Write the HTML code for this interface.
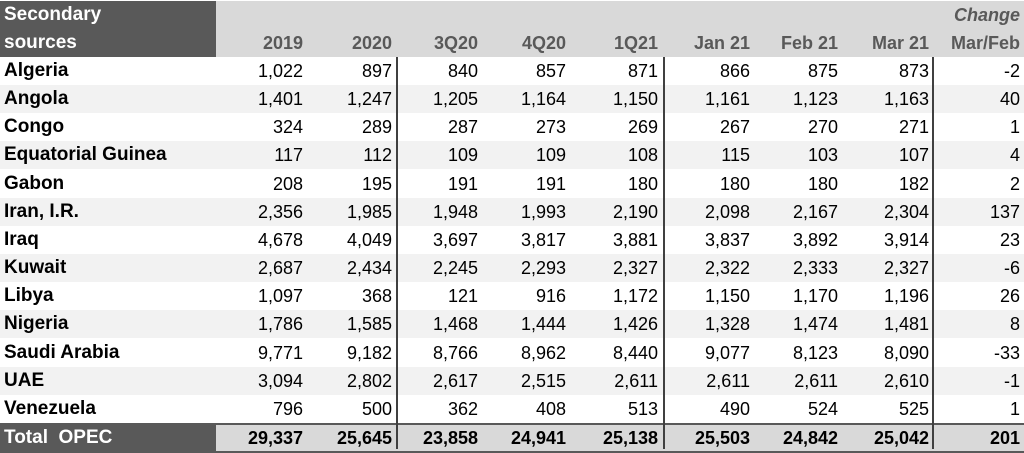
<!DOCTYPE html>
<html><head><style>
body{margin:0;width:1024px;height:451px;background:#fff;font-family:"Liberation Sans",Arial,sans-serif;font-size:18px;position:relative;overflow:hidden}
.hd{position:absolute;top:1px;height:56px;background:#d9d9d9;left:216px;right:0}
.hl{position:absolute;top:1px;height:56px;background:#595959;left:0;width:216px}
.t{position:absolute;white-space:nowrap;line-height:28px}
.w{color:#fff;font-weight:bold;left:4px;font-size:19px}
.h{color:#595959;font-weight:bold;text-align:right}
.row{position:absolute;left:0;right:0;height:28px}
.n{position:absolute;left:4px;font-weight:bold;line-height:28px;white-space:nowrap;font-size:19px}
.c{position:absolute;text-align:right;line-height:28px;width:90px}
.v{position:absolute;width:2px;background:#404040;top:57px;height:392px}
</style></head><body>
<div class="hl"></div><div class="hd"></div>
<div class="t w" style="top:1px">Secondary</div>
<div class="t w" style="top:29px">sources</div>
<div class="t h" style="top:1px;right:4px;font-style:italic">Change</div>
<div id="hdr"></div>
<div id="rows"></div>
<script>
var R=[303,392,478,566,658,750,838,929,1020];
var H=["2019","2020","3Q20","4Q20","1Q21","Jan 21","Feb 21","Mar 21","Mar/Feb"];
var s="";
H.forEach(function(h,i){s+='<div class="t h" style="top:29px;left:'+(R[i]-120)+'px;width:120px">'+h+'</div>';});
document.getElementById("hdr").innerHTML=s;
var D=[["Algeria","1,022","897","840","857","871","866","875","873","-2"],
["Angola","1,401","1,247","1,205","1,164","1,150","1,161","1,123","1,163","40"],
["Congo","324","289","287","273","269","267","270","271","1"],
["Equatorial Guinea","117","112","109","109","108","115","103","107","4"],
["Gabon","208","195","191","191","180","180","180","182","2"],
["Iran, I.R.","2,356","1,985","1,948","1,993","2,190","2,098","2,167","2,304","137"],
["Iraq","4,678","4,049","3,697","3,817","3,881","3,837","3,892","3,914","23"],
["Kuwait","2,687","2,434","2,245","2,293","2,327","2,322","2,333","2,327","-6"],
["Libya","1,097","368","121","916","1,172","1,150","1,170","1,196","26"],
["Nigeria","1,786","1,585","1,468","1,444","1,426","1,328","1,474","1,481","8"],
["Saudi Arabia","9,771","9,182","8,766","8,962","8,440","9,077","8,123","8,090","-33"],
["UAE","3,094","2,802","2,617","2,515","2,611","2,611","2,611","2,610","-1"],
["Venezuela","796","500","362","408","513","490","524","525","1"]];
s="";
D.forEach(function(r,k){
 var top=57+k*28.15;
 s+='<div class="row" style="top:'+top+'px;background:'+(k%2?'#f2f2f2':'#fff')+'"><div class="n">'+r[0]+'</div>';
 for(var i=1;i<10;i++)s+='<div class="c" style="left:'+(R[i-1]-90)+'px">'+r[i]+'</div>';
 s+='</div>';
});
var T=["Total  OPEC","29,337","25,645","23,858","24,941","25,138","25,503","24,842","25,042","201"];
s+='<div class="row" style="top:423px;height:26px;background:#d9d9d9;border-top:2px solid #595959;border-bottom:2px solid #595959;font-weight:bold"><div class="n" style="left:0;width:216px;height:26px;line-height:26px;background:#595959;color:#fff;padding-left:4px;box-sizing:border-box;white-space:pre">'+T[0]+'</div>';
for(var i=1;i<10;i++)s+='<div class="c" style="line-height:26px;left:'+(R[i-1]-90)+'px">'+T[i]+'</div>';
s+='</div>';
s+='<div class="v" style="left:396px"></div><div class="v" style="left:663px"></div><div class="v" style="left:932px"></div>';
document.getElementById("rows").innerHTML=s;
</script>
</body></html>
